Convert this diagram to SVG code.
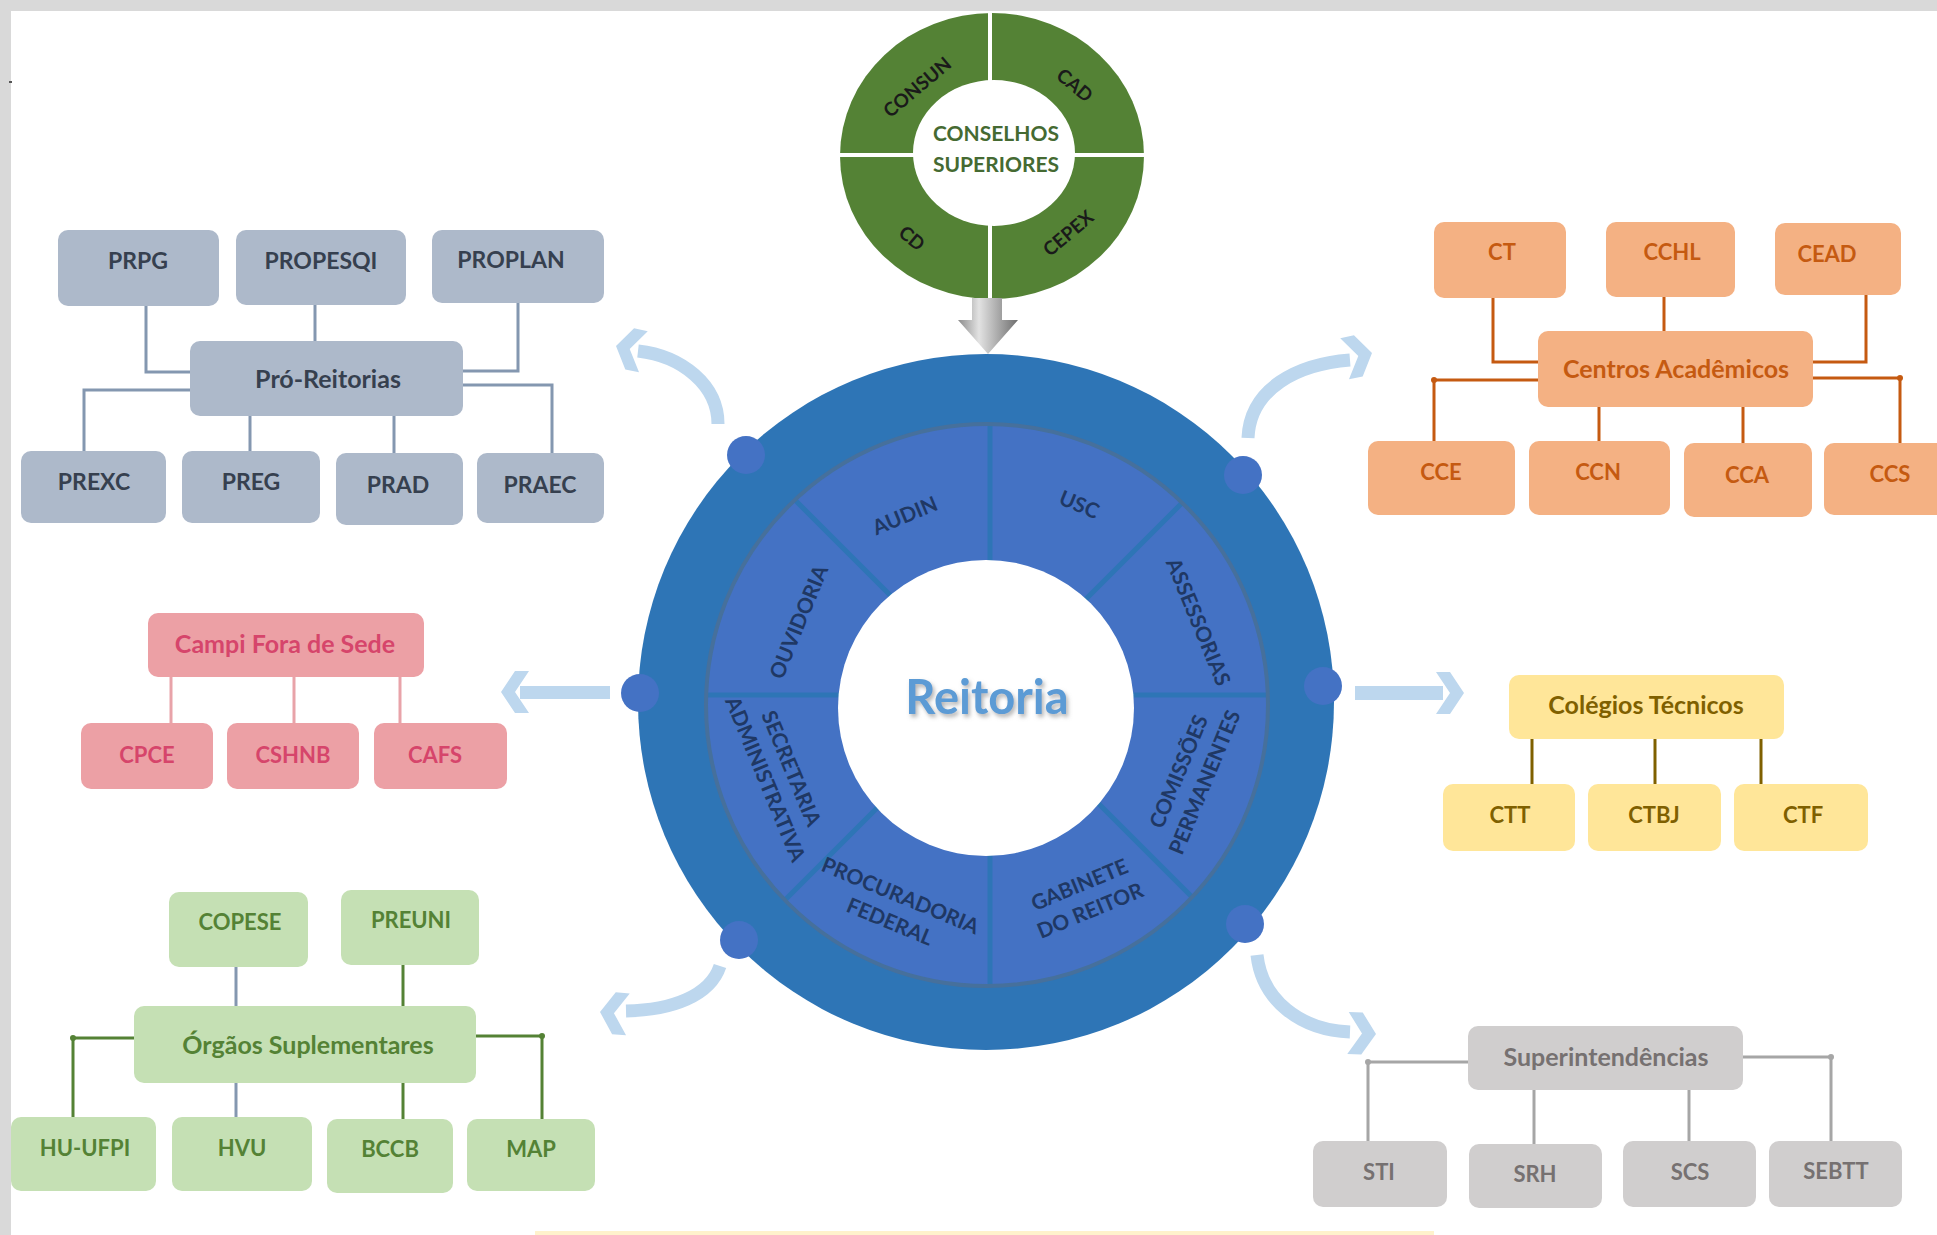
<svg xmlns="http://www.w3.org/2000/svg" width="1937" height="1235" viewBox="0 0 1937 1235">
<defs>
<style>
text { font-family: Lato, "Liberation Sans", "DejaVu Sans", sans-serif; font-weight: 700; text-anchor: middle; }
.gy rect { fill: #ADB9CA; } .gy text { fill: #36404F; font-size: 23px; }
.or rect { fill: #F4B183; } .or text { fill: #C55A11; font-size: 22px; }
.pk rect { fill: #ECA0A5; } .pk text { fill: #D6456B; font-size: 22px; }
.ye rect { fill: #FFE699; } .ye text { fill: #7F6000; font-size: 22px; }
.gr rect { fill: #C5E0B4; } .gr text { fill: #548235; font-size: 22px; }
.lg rect { fill: #D0CECE; } .lg text { fill: #767171; font-size: 22px; }
text.mx { font-size: 25px; }
.seg { fill: #1F3864; font-size: 21px; }
.cs { fill: #1A1A1A; font-size: 19px; }
.ln { fill: none; stroke-width: 3; }
.arc { fill: none; stroke: #BDD7EE; stroke-width: 13; }
.chev { fill: #BDD7EE; }
</style>
<polygon id="chev" points="0,0 -14,-21 -28,-21 -14,0 -28,21 -14,21"/>
<linearGradient id="gArrow" x1="0" y1="0" x2="1" y2="0">
<stop offset="0" stop-color="#8C8C8C"/>
<stop offset="0.35" stop-color="#E2E2E2"/>
<stop offset="0.55" stop-color="#BFBFBF"/>
<stop offset="1" stop-color="#6E6E6E"/>
</linearGradient>
<clipPath id="ringClip"><circle cx="987" cy="705" r="281"/></clipPath>
<filter id="sh" x="-20%" y="-40%" width="140%" height="180%"><feDropShadow dx="2" dy="3" stdDeviation="2" flood-color="#808080" flood-opacity="0.6"/></filter>
</defs>

<rect x="0" y="0" width="1937" height="1235" fill="#D9D9D9"/>
<rect x="11" y="11" width="1926" height="1224" fill="#FFFFFF"/>
<rect x="9" y="81" width="3" height="2" fill="#555555"/>
<rect x="535" y="1231" width="899" height="4" fill="#FFF2CC"/>

<g id="conselhos">
<ellipse cx="992" cy="156" rx="152" ry="143" fill="#548235"/>
<line x1="990" y1="12" x2="990" y2="300" stroke="#FFFFFF" stroke-width="4"/>
<line x1="838" y1="155" x2="1146" y2="155" stroke="#FFFFFF" stroke-width="4"/>
<ellipse cx="994" cy="153" rx="81" ry="73" fill="#FFFFFF"/>
<text class="cs" transform="translate(917,87) rotate(-40)" y="7">CONSUN</text>
<text class="cs" transform="translate(1075,85) rotate(40)" y="7">CAD</text>
<text class="cs" transform="translate(912,238) rotate(40)" y="7">CD</text>
<text class="cs" transform="translate(1068,233) rotate(-40)" y="7">CEPEX</text>
<text x="996" y="141" fill="#456A32" font-size="21">CONSELHOS</text>
<text x="996" y="172" fill="#456A32" font-size="21">SUPERIORES</text>
</g>

<g id="reitoria">
<circle cx="986" cy="702" r="348" fill="#2E75B6"/>
<circle cx="987" cy="705" r="281" fill="#4472C4"/>
<g clip-path="url(#ringClip)" stroke="#2E75B6" stroke-width="5">
<line x1="990" y1="695" x2="990" y2="380"/>
<line x1="990" y1="695" x2="990" y2="1010"/>
<line x1="990" y1="695" x2="1300" y2="695"/>
<line x1="990" y1="695" x2="680" y2="695"/>
<line x1="990" y1="695" x2="1215" y2="470"/>
<line x1="990" y1="695" x2="765" y2="470"/>
<line x1="990" y1="695" x2="1215" y2="920"/>
<line x1="990" y1="695" x2="765" y2="920"/>
</g>
<circle cx="987" cy="705" r="281" fill="none" stroke="#46709C" stroke-width="4"/>
<circle cx="986" cy="708" r="148" fill="#FFFFFF"/>
<text class="seg" transform="translate(905,516) rotate(-22.5)" y="7">AUDIN</text>
<text class="seg" transform="translate(1079,505) rotate(22.5)" y="7">USC</text>
<text class="seg" transform="translate(1198,622) rotate(67.5)" y="7">ASSESSORIAS</text>
<text class="seg" transform="translate(799,622) rotate(-67.5)" y="7">OUVIDORIA</text>
<g transform="translate(1192,777) rotate(-67.5)"><text class="seg" y="-7">COMISSÕES</text><text class="seg" y="21">PERMANENTES</text></g>
<g transform="translate(1085,898) rotate(-22.5)"><text class="seg" y="-7">GABINETE</text><text class="seg" y="21">DO REITOR</text></g>
<g transform="translate(895,909) rotate(22.5)"><text class="seg" y="-7">PROCURADORIA</text><text class="seg" y="21">FEDERAL</text></g>
<g transform="translate(778,774) rotate(67.5)"><text class="seg" y="-7">SECRETARIA</text><text class="seg" y="21">ADMINISTRATIVA</text></g>
<text x="987" y="714" fill="#5B9BD5" font-size="47" filter="url(#sh)">Reitoria</text>
<g fill="#4472C4">
<circle cx="746" cy="455" r="19"/>
<circle cx="1243" cy="475" r="19"/>
<circle cx="640" cy="693" r="19"/>
<circle cx="1323" cy="686" r="19"/>
<circle cx="739" cy="940" r="19"/>
<circle cx="1245" cy="924" r="19"/>
</g>
</g>

<g id="connectors">
<polygon points="972,298 1002,298 1002,320 1018,320 988,354 958,320 972,320" fill="url(#gArrow)"/>
<path class="arc" d="M718 424 C718 385 682 356 638 351"/>
<use href="#chev" class="chev" transform="translate(616,346) rotate(192)"/>
<path class="arc" d="M1248 438 C1250 388 1298 364 1350 360"/>
<use href="#chev" class="chev" transform="translate(1372,353) rotate(-12)"/>
<path class="arc" d="M720 966 C710 996 672 1010 626 1011"/>
<use href="#chev" class="chev" transform="translate(600,1012) rotate(185)"/>
<path class="arc" d="M1257 955 C1262 1000 1300 1030 1350 1032"/>
<use href="#chev" class="chev" transform="translate(1376,1034) rotate(2)"/>
<rect x="520" y="686" width="90" height="13" fill="#BDD7EE"/>
<use href="#chev" class="chev" transform="translate(501,692) rotate(180)"/>
<rect x="1355" y="686" width="88" height="14" fill="#BDD7EE"/>
<use href="#chev" class="chev" transform="translate(1464,693)"/>

<g class="ln" stroke="#8497B0">
<path d="M146 306 V372 H190"/>
<path d="M315 305 V341"/>
<path d="M518 303 V371 H463"/>
<path d="M190 390 H84 V451"/>
<path d="M250 416 V451"/>
<path d="M394 416 V453"/>
<path d="M463 385 H552 V453"/>
</g>
<g class="ln" stroke="#C55A11">
<path d="M1493 298 V362 H1538"/>
<path d="M1664 297 V331"/>
<path d="M1866 295 V362 H1813"/>
<path d="M1538 380 H1434 V441"/>
<path d="M1599 407 V441"/>
<path d="M1743 407 V443"/>
<path d="M1813 378 H1900 V443"/>
</g>
<g fill="#C55A11"><circle cx="1434" cy="380" r="3"/><circle cx="1900" cy="378" r="3"/></g>
<g class="ln" stroke="#E8A3A9" stroke-width="2">
<path d="M171 677 V723"/>
<path d="M294 677 V723"/>
<path d="M400 677 V723"/>
</g>
<g class="ln" stroke="#7F6000">
<path d="M1532 739 V784"/>
<path d="M1655 739 V784"/>
<path d="M1761 739 V784"/>
</g>
<g class="ln" stroke="#8497B0" stroke-width="2">
<path d="M236 967 V1006"/>
<path d="M236 1083 V1117"/>
</g>
<g class="ln" stroke="#548235">
<path d="M403 965 V1006"/>
<path d="M134 1038 H73 V1117"/>
<path d="M403 1083 V1119"/>
<path d="M476 1036 H542 V1119"/>
</g>
<g fill="#548235"><circle cx="73" cy="1038" r="3"/><circle cx="542" cy="1036" r="3"/></g>
<g class="ln" stroke="#A6A6A6">
<path d="M1468 1062 H1368 V1141"/>
<path d="M1534 1090 V1144"/>
<path d="M1689 1090 V1141"/>
<path d="M1743 1057 H1831 V1141"/>
</g>
<g fill="#A6A6A6"><circle cx="1368" cy="1062" r="3"/><circle cx="1831" cy="1057" r="3"/></g>
</g>

<g class="gy">
<g id="prpg"><rect x="58" y="230" width="161" height="76" rx="10"/><text x="138" y="269">PRPG</text></g>
<g id="propesqi"><rect x="236" y="230" width="170" height="75" rx="10"/><text x="321" y="269">PROPESQI</text></g>
<g id="proplan"><rect x="432" y="230" width="172" height="73" rx="10"/><text x="511" y="268">PROPLAN</text></g>
<g id="pro-reitorias"><rect x="190" y="341" width="273" height="75" rx="10"/><text class="mx" x="328" y="388">Pró-Reitorias</text></g>
<g id="prexc"><rect x="21" y="451" width="145" height="72" rx="10"/><text x="94" y="490">PREXC</text></g>
<g id="preg"><rect x="182" y="451" width="138" height="72" rx="10"/><text x="251" y="490">PREG</text></g>
<g id="prad"><rect x="336" y="453" width="127" height="72" rx="10"/><text x="398" y="493">PRAD</text></g>
<g id="praec"><rect x="477" y="453" width="127" height="70" rx="10"/><text x="540" y="493">PRAEC</text></g>
</g>

<g class="or">
<g id="ct"><rect x="1434" y="222" width="132" height="76" rx="10"/><text x="1502" y="260">CT</text></g>
<g id="cchl"><rect x="1606" y="222" width="129" height="75" rx="10"/><text x="1672" y="260">CCHL</text></g>
<g id="cead"><rect x="1775" y="223" width="126" height="72" rx="10"/><text x="1827" y="262">CEAD</text></g>
<g id="centros"><rect x="1538" y="331" width="275" height="76" rx="10"/><text class="mx" x="1676" y="378">Centros Acadêmicos</text></g>
<g id="cce"><rect x="1368" y="441" width="147" height="74" rx="10"/><text x="1441" y="480">CCE</text></g>
<g id="ccn"><rect x="1529" y="441" width="141" height="74" rx="10"/><text x="1598" y="480">CCN</text></g>
<g id="cca"><rect x="1684" y="443" width="128" height="74" rx="10"/><text x="1747" y="483">CCA</text></g>
<g id="ccs"><rect x="1824" y="443" width="130" height="72" rx="10"/><text x="1890" y="482">CCS</text></g>
</g>

<g class="pk">
<g id="campi"><rect x="148" y="613" width="276" height="64" rx="10"/><text class="mx" x="285" y="653">Campi Fora de Sede</text></g>
<g id="cpce"><rect x="81" y="723" width="132" height="66" rx="10"/><text x="147" y="763">CPCE</text></g>
<g id="cshnb"><rect x="227" y="723" width="132" height="66" rx="10"/><text x="293" y="763">CSHNB</text></g>
<g id="cafs"><rect x="374" y="723" width="133" height="66" rx="10"/><text x="435" y="763">CAFS</text></g>
</g>

<g class="ye">
<g id="colegios"><rect x="1509" y="675" width="275" height="64" rx="10"/><text class="mx" x="1646" y="714">Colégios Técnicos</text></g>
<g id="ctt"><rect x="1443" y="784" width="132" height="67" rx="10"/><text x="1510" y="823">CTT</text></g>
<g id="ctbj"><rect x="1588" y="784" width="133" height="67" rx="10"/><text x="1654" y="823">CTBJ</text></g>
<g id="ctf"><rect x="1734" y="784" width="134" height="67" rx="10"/><text x="1803" y="823">CTF</text></g>
</g>

<g class="gr">
<g id="copese"><rect x="169" y="892" width="139" height="75" rx="10"/><text x="240" y="930">COPESE</text></g>
<g id="preuni"><rect x="341" y="890" width="138" height="75" rx="10"/><text x="411" y="928">PREUNI</text></g>
<g id="orgaos"><rect x="134" y="1006" width="342" height="77" rx="10"/><text class="mx" x="308" y="1054">Órgãos Suplementares</text></g>
<g id="hu-ufpi"><rect x="11" y="1117" width="145" height="74" rx="10"/><text x="85" y="1156">HU-UFPI</text></g>
<g id="hvu"><rect x="172" y="1117" width="140" height="74" rx="10"/><text x="242" y="1156">HVU</text></g>
<g id="bccb"><rect x="327" y="1119" width="126" height="74" rx="10"/><text x="390" y="1157">BCCB</text></g>
<g id="map"><rect x="467" y="1119" width="128" height="72" rx="10"/><text x="531" y="1157">MAP</text></g>
</g>

<g class="lg">
<g id="superintendencias"><rect x="1468" y="1026" width="275" height="64" rx="10"/><text class="mx" x="1606" y="1066">Superintendências</text></g>
<g id="sti"><rect x="1313" y="1141" width="134" height="66" rx="10"/><text x="1379" y="1180">STI</text></g>
<g id="srh"><rect x="1469" y="1144" width="133" height="64" rx="10"/><text x="1535" y="1182">SRH</text></g>
<g id="scs"><rect x="1623" y="1141" width="133" height="66" rx="10"/><text x="1690" y="1180">SCS</text></g>
<g id="sebtt"><rect x="1769" y="1141" width="133" height="66" rx="10"/><text x="1836" y="1179">SEBTT</text></g>
</g>
</svg>
